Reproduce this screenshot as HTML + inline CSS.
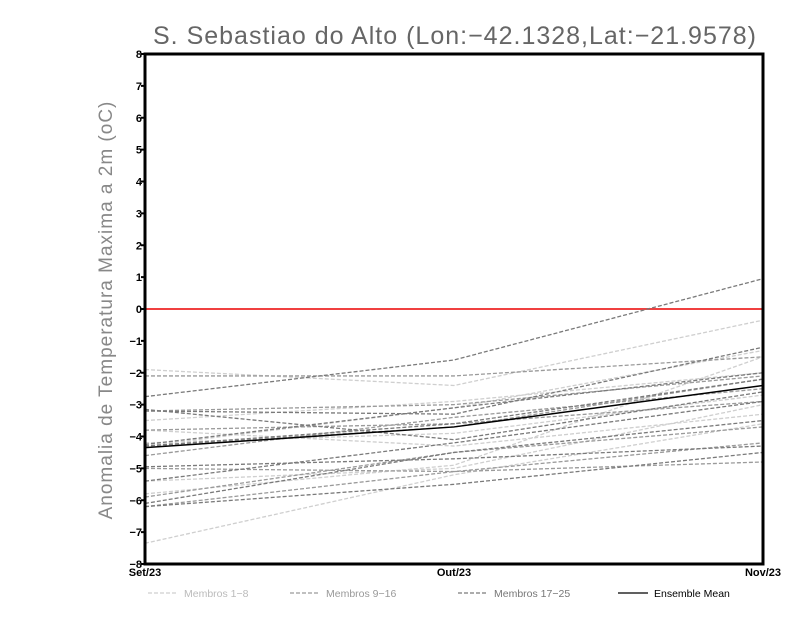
<!DOCTYPE html>
<html><head><meta charset="utf-8"><style>
body{margin:0;background:#fff;}
svg{display:block;font-family:"Liberation Sans",sans-serif;}
</style></head><body>
<svg id="chart" width="800" height="618">
<text x="455" y="44" text-anchor="middle" font-size="25" fill="#666" font-weight="300" letter-spacing="1">S. Sebastiao do Alto (Lon:−42.1328,Lat:−21.9578)</text>
<text transform="translate(112,310) rotate(-90)" text-anchor="middle" font-size="19" fill="#888" letter-spacing="1">Anomalia de Temperatura Maxima a 2m (oC)</text>
<g id="plot"></g>
</svg>
<script>
const categories=["Set/23","Out/23","Nov/23"];
const yTicks=[8,7,6,5,4,3,2,1,0,-1,-2,-3,-4,-5,-6,-7,-8];
const membros1to8=[[-1.9,-2.4,-0.35],[-7.35,-5.2,-3.6],[-5.8,-4.9,-1.5],[-3.5,-2.9,-2.0],[-3.8,-4.3,-3.3],[-4.3,-3.1,-1.3],[-5.4,-5.0,-3.0],[-4.2,-3.9,-2.7]];
const membros9to16=[[-2.1,-2.1,-1.5],[-3.2,-3.0,-2.1],[-4.3,-3.7,-2.2],[-5.0,-5.1,-4.2],[-6.2,-5.1,-4.8],[-3.8,-3.6,-2.9],[-5.9,-4.5,-3.7],[-4.6,-3.4,-2.5]];
const membros17to25=[[-2.75,-1.6,0.95],[-3.15,-4.1,-2.6],[-6.1,-4.5,-3.5],[-4.3,-3.6,-2.2],[-5.4,-4.2,-2.9],[-3.2,-3.3,-1.2],[-4.95,-4.7,-4.3],[-6.2,-5.5,-4.5],[-4.25,-3.1,-2.0]];
const ensembleMean=[-4.35,-3.7,-2.4];
const NS="http://www.w3.org/2000/svg";
const L=145,R=763,T=54,B=564;
const xs=i=>L+(R-L)*i/(categories.length-1);
const ys=v=>T+(8-v)*(B-T)/16;
const g=document.getElementById('plot');
function mk(tag,attrs){const e=document.createElementNS(NS,tag);for(const k in attrs)e.setAttribute(k,attrs[k]);g.appendChild(e);return e;}
let z=mk('line',{x1:L,x2:R,y1:ys(0),y2:ys(0),stroke:'#f04040','stroke-width':2});


function series(arr,color,name){arr.forEach((s,j)=>{const p=mk('polyline',{points:s.map((v,i)=>xs(i)+','+ys(v)).join(' '),fill:'none',stroke:color,'stroke-width':1.3,'stroke-dasharray':'4,2'});

});}
series(membros1to8,'#cfcfcf','membro-light');
series(membros9to16,'#9a9a9a','membro-mid');
series(membros17to25,'#7a7a7a','membro-dark');
const m=mk('polyline',{points:ensembleMean.map((v,i)=>xs(i)+','+ys(v)).join(' '),fill:'none',stroke:'#000','stroke-width':1.5});


const f=mk('rect',{x:L,y:T,width:R-L,height:B-T,fill:'none',stroke:'#000','stroke-width':3});


yTicks.forEach(v=>{mk('line',{x1:L-4,x2:L,y1:ys(v),y2:ys(v),stroke:'#000','stroke-width':2});
const t=mk('text',{x:L-3,y:ys(v)+4,'text-anchor':'end','font-size':11,'font-weight':'bold'});t.textContent=v<0?'−'+(-v):v;

});
categories.forEach((c,i)=>{const t=mk('text',{x:xs(i),y:576,'text-anchor':'middle','font-size':11,'font-weight':'bold'});t.textContent=c;

});
const legend=[['Membros 1−8','#cfcfcf','#bbb',148,'4,2'],['Membros 9−16','#9a9a9a','#999',290,'4,2'],['Membros 17−25','#7a7a7a','#777',458,'4,2'],['Ensemble Mean','#000','#000',618,'']];
legend.forEach(l=>{const ln=mk('line',{x1:l[3],x2:l[3]+30,y1:593,y2:593,stroke:l[1],'stroke-width':1.3,'stroke-dasharray':l[4]});


const t=mk('text',{x:l[3]+36,y:597,'font-size':10.5,fill:l[2]});t.textContent=l[0];

});
</script>
</body></html>
